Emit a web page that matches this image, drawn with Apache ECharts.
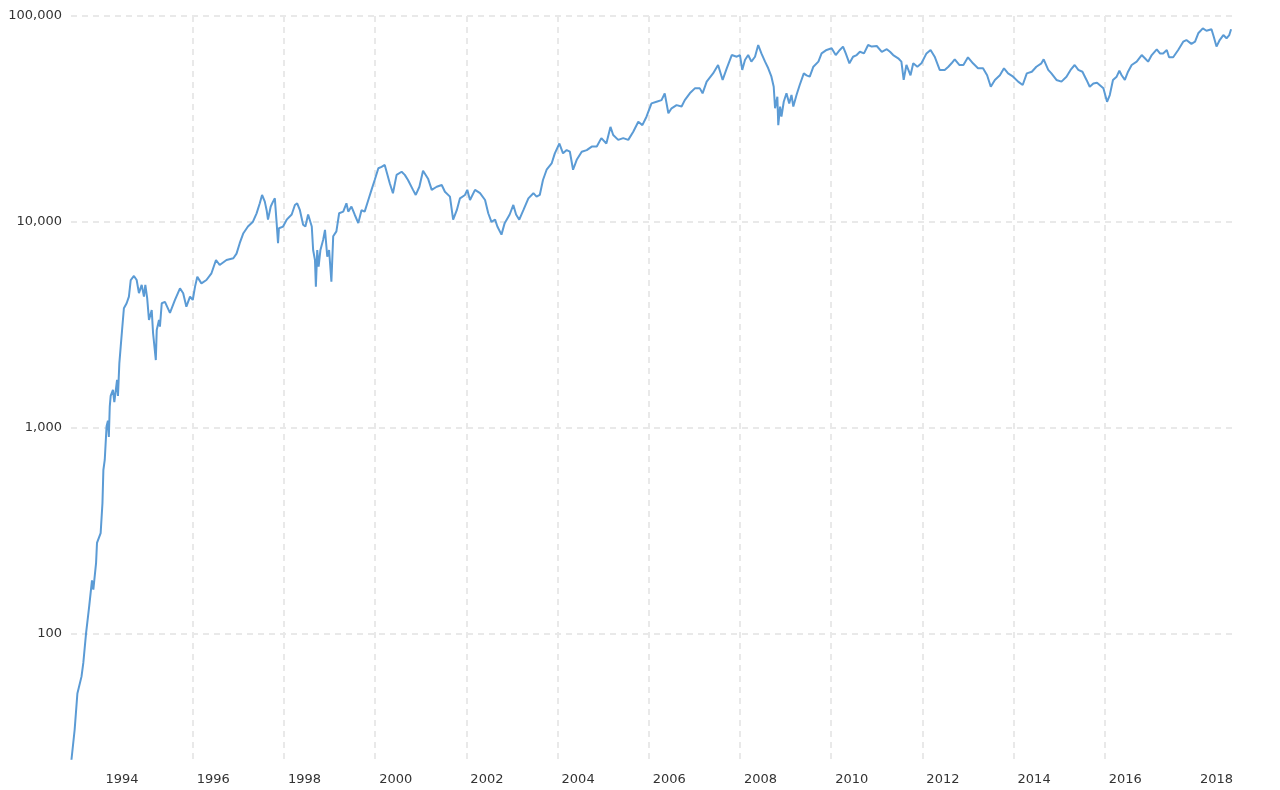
<!DOCTYPE html>
<html>
<head>
<meta charset="utf-8">
<script src="https://cdn.jsdelivr.net/npm/echarts@6/dist/echarts.min.js"></script>
<style>
html,body{margin:0;padding:0;background:#fff;}
#chart{width:1280px;height:790px;}
</style>
</head>
<body>
<div id="chart"></div>
<script>
// Time as decimal years, values as index level
const years = [
  1993.34,1993.41,1993.47,1993.56,1993.60,1993.66,1993.73,1993.79,1993.82,1993.88,1993.90,1993.98,
  1994.02,1994.04,1994.07,1994.11,1994.14,1994.16,1994.18,1994.20,1994.25,1994.28,1994.34,1994.36,
  1994.39,1994.42,1994.45,1994.49,1994.55,1994.60,1994.64,1994.71,1994.77,1994.82,1994.88,1994.93,1994.96,
  1995.00,1995.04,1995.10,1995.13,1995.19,1995.21,1995.26,1995.28,1995.32,1995.39,1995.50,1995.61,1995.72,1995.79,1995.86,1995.94,
  1996.00,1996.05,1996.10,1996.19,1996.30,1996.41,1996.51,1996.59,1996.74,1996.89,1996.96,
  1997.03,1997.11,1997.21,1997.32,1997.40,1997.47,1997.52,1997.58,1997.62,1997.65,1997.71,1997.76,1997.80,1997.84,1997.87,1997.89,1997.98,
  1998.06,1998.17,1998.24,1998.29,1998.35,1998.42,1998.47,1998.53,1998.57,1998.61,1998.64,1998.68,1998.70,1998.73,1998.76,1998.80,1998.86,1998.90,1998.95,1998.99,
  1999.04,1999.08,1999.15,1999.21,1999.30,1999.37,1999.41,1999.48,1999.55,1999.63,1999.70,1999.77,1999.85,1999.92,1999.99,
  2000.07,2000.14,2000.21,2000.26,2000.32,2000.39,2000.47,2000.58,2000.65,2000.72,2000.83,2000.89,2000.97,
  2001.05,2001.16,2001.24,2001.35,2001.46,2001.53,2001.64,2001.71,2001.79,2001.86,2001.97,
  2002.02,2002.08,2002.19,2002.30,2002.41,2002.48,2002.55,2002.63,2002.68,2002.77,2002.84,2002.95,
  2003.03,2003.09,2003.16,2003.25,2003.36,2003.47,2003.54,2003.61,2003.68,2003.76,2003.87,2003.94,
  2004.04,2004.12,2004.20,2004.27,2004.34,2004.42,2004.53,2004.64,2004.75,2004.86,2004.96,
  2005.07,2005.16,2005.22,2005.33,2005.44,2005.55,2005.66,2005.77,2005.86,2005.95,
  2006.06,2006.17,2006.28,2006.35,2006.43,2006.50,2006.61,2006.72,2006.79,2006.90,
  2007.01,2007.12,2007.18,2007.27,2007.41,2007.52,2007.62,2007.71,2007.82,2007.93,
  2008.00,2008.05,2008.11,2008.18,2008.25,2008.33,2008.40,2008.47,2008.55,2008.62,2008.69,2008.74,2008.77,2008.82,2008.84,2008.88,2008.91,2008.96,
  2009.02,2009.08,2009.13,2009.17,2009.24,2009.31,2009.40,2009.46,2009.53,2009.61,2009.72,2009.79,2009.90,
  2010.01,2010.10,2010.19,2010.26,2010.32,2010.40,2010.48,2010.56,2010.63,2010.72,2010.81,2010.89,
  2011.00,2011.11,2011.22,2011.29,2011.36,2011.47,2011.54,2011.59,2011.65,2011.74,2011.80,2011.89,2011.98,
  2012.09,2012.18,2012.27,2012.38,2012.49,2012.57,2012.64,2012.71,2012.81,2012.90,
  2013.00,2013.11,2013.22,2013.33,2013.42,2013.50,2013.59,2013.70,2013.79,2013.88,2013.99,
  2014.10,2014.20,2014.29,2014.40,2014.50,2014.61,2014.66,2014.76,2014.83,2014.94,
  2015.05,2015.16,2015.25,2015.34,2015.42,2015.51,2015.60,2015.67,2015.75,2015.83,2015.97,
  2016.05,2016.11,2016.18,2016.26,2016.32,2016.37,2016.44,2016.51,2016.59,2016.70,2016.81,2016.88,2016.95,
  2017.03,2017.14,2017.21,2017.28,2017.36,2017.41,2017.50,2017.61,2017.72,2017.79,2017.90,2017.98,
  2018.05,2018.15,2018.23,2018.34,2018.39,2018.45,2018.52,2018.60,2018.67,2018.73,2018.77
];
const values = [
  24.3,34,51,61.6,71.8,100,136,181,163,220,275,307,
  430,622,696,1015,1080,900,1265,1425,1523,1330,1704,1425,
  2050,2473,2979,3800,4020,4330,5212,5454,5212,4498,4936,4330,4936,
  4266,3335,3727,2873,2128,2979,3335,3090,4020,4080,3606,4169,4750,4498,3868,4330,
  4169,4840,5400,5020,5212,5620,6520,6166,6520,6650,7000,
  7870,8800,9480,10010,10990,12300,13500,12530,11380,10240,11860,12530,13000,9850,7870,9300,9480,
  10240,10850,12070,12300,11380,9670,9480,10850,11000,9480,7295,6520,4840,7295,6050,7295,8180,9130,6760,7295,
  5110,8500,8980,11000,11200,12300,11200,11860,10850,9850,11380,11200,12760,14290,15960,
  18200,18500,18900,17200,15400,13770,16900,17500,16900,15960,14290,13500,14800,
  17700,16200,14290,14800,15100,14000,13250,10240,11380,13000,13500,
  14290,12760,14290,13770,12760,11000,10000,10240,9480,8660,9850,10850,
  12070,10850,10240,11380,13000,13770,13250,13500,15960,17900,19200,21500,
  24000,21500,22300,21900,17900,20000,21900,22300,23200,23200,25500,
  24000,28900,26400,25000,25500,25000,27400,30600,29500,32400,
  37600,38300,39000,42100,33700,35600,36900,36300,39000,42100,
  44500,44500,42100,48000,52600,57800,48900,55700,64600,63400,
  64600,54700,61100,64600,60000,63400,72300,65800,60000,55700,50700,45300,35600,40500,29500,36300,32400,38300,
  42100,37600,41300,36300,41300,46200,52600,51500,50700,56700,60000,65800,68400,
  69700,64600,68400,71000,65800,58900,63400,64600,67000,65800,72300,71000,
  71500,67000,69000,67000,64600,62300,60000,48900,57800,51500,58900,56700,58900,
  65800,68400,63400,54700,54700,56700,58900,61600,57800,57800,
  63000,58900,55700,55700,51500,45300,48900,51500,55700,52600,50700,
  48000,46200,52600,53600,56700,58900,61600,54700,52600,48900,
  48000,50700,54700,57800,54700,53600,48900,45300,47000,47400,44500,
  38300,41300,48900,50700,54200,51500,48900,53600,57800,60000,64600,62300,60000,
  64600,68800,65800,65800,68400,63000,63000,68400,75000,76400,73200,75000,
  82400,87100,84800,86200,79300,71000,76400,80800,77900,80800,86200
];
const xLabelYears = [1994,1996,1998,2000,2002,2004,2006,2008,2010,2012,2014,2016,2018];
const yLabelValues = [100,1000,10000,100000];

const chart = echarts.init(document.getElementById('chart'), null, {renderer: 'canvas'});
const seriesData = years.map((y, i) => [y, values[i]]);
const fontFamily = '"DejaVu Sans", Verdana, sans-serif';

chart.setOption({
  animation: false,
  backgroundColor: '#ffffff',
  grid: {left: 71, right: 48, top: 16, bottom: 28, containLabel: false},
  xAxis: {
    type: 'value',
    min: 1993.33,
    max: 2018.79,
    axisLine: {show: false},
    axisTick: {show: false, customValues: xLabelYears},
    axisLabel: {
      customValues: xLabelYears,
      formatter: v => String(Math.round(v)),
      color: '#333333',
      fontFamily: fontFamily,
      fontSize: 13,
      align: 'left',
      padding: [0, 0, 0, 4],
      margin: 11,
      showMinLabel: true,
      showMaxLabel: true
    },
    splitLine: {
      show: true,
      showMinLine: false,
      showMaxLine: false,
      lineStyle: {color: '#e9e9e9', width: 2, type: [6, 5]}
    }
  },
  yAxis: {
    type: 'log',
    logBase: 10,
    min: 23.7,
    max: 100000,
    axisLine: {show: false},
    axisTick: {show: false},
    axisLabel: {
      color: '#333333',
      fontFamily: fontFamily,
      fontSize: 13,
      margin: 9,
      showMinLabel: false,
      formatter: v => {
        const r = Math.round(v);
        return yLabelValues.indexOf(r) >= 0 ? r.toLocaleString('en-US') : '';
      }
    },
    splitLine: {
      show: true,
      showMinLine: false,
      lineStyle: {color: '#e9e9e9', width: 2, type: [6, 5]}
    }
  },
  series: [{
    type: 'line',
    data: seriesData,
    showSymbol: false,
    symbol: 'none',
    lineStyle: {color: '#5b9bd5', width: 2},
    itemStyle: {color: '#5b9bd5'}
  }]
});
</script>
</body>
</html>
